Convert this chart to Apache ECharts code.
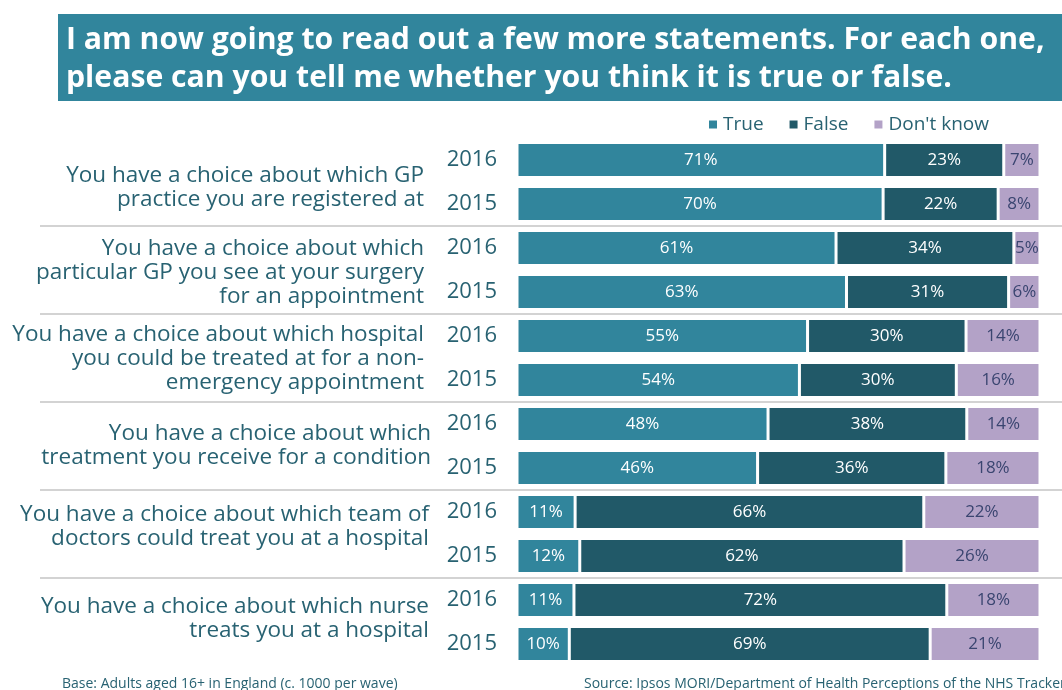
<!DOCTYPE html>
<html>
<head>
<meta charset="utf-8">
<script src="https://cdn.jsdelivr.net/npm/echarts@6/dist/echarts.min.js"></script>
<style>
  html, body { margin: 0; padding: 0; background: #ffffff; }
  #chart { width: 1062px; height: 690px; }
</style>
</head>
<body>
<div id="chart"></div>
<script>
// Survey statements (one group of two waves each)
const statements = [
  'You have a choice about which GP\npractice you are registered at',
  'You have a choice about which\nparticular GP you see at your surgery\nfor an appointment',
  'You have a choice about which hospital\nyou could be treated at for a non-\nemergency appointment',
  'You have a choice about which\ntreatment you receive for a condition',
  'You have a choice about which team of\ndoctors could treat you at a hospital',
  'You have a choice about which nurse\ntreats you at a hospital'
];
const years = ['2016', '2015'];
const seriesNames = ['True', 'False', "Don't know"];

// Percentages per bar, ordered statement by statement, 2016 then 2015
const trueVals  = [71, 70, 61, 63, 55, 54, 48, 46, 11, 12, 11, 10];
const falseVals = [23, 22, 34, 31, 30, 30, 38, 36, 66, 62, 72, 69];
const dkVals    = [ 7,  8,  5,  6, 14, 16, 14, 18, 22, 26, 18, 21];

const titleLines = [
  'I am now going to read out a few more statements. For each one,',
  'please can you tell me whether you think it is true or false.'
];
const baseNote = 'Base: Adults aged 16+ in England (c. 1000 per wave)';
const sourceNote = 'Source: Ipsos MORI/Department of Health Perceptions of the NHS Tracker';

// One category per bar: statement index + wave year
const barKeys = [];
statements.forEach((s, i) => years.forEach(y => barKeys.push(i + '|' + y)));

// Each bar is stacked to its own 100% total
const rowTotals = trueVals.map((v, i) => v + falseVals[i] + dkVals[i]);
const share = arr => arr.map((v, i) => v / rowTotals[i] * 100);

const FONT = 'Open Sans';
const TEXT_COL = '#286272';
const colors = ['#31859c', '#215968', '#b3a2c7'];
const labelColors = ['#ffffff', '#ffffff', '#3a4570'];
const rawSets = [trueVals, falseVals, dkVals];

// Statement text layout: right edge and vertical nudge per group
const statementRight = [424, 424, 424, 431, 429, 429];
const statementShift = [5.5, 3, 0.5, 0, -7, -3];

const chart = echarts.init(document.getElementById('chart'), null, { renderer: 'canvas' });

const series = seriesNames.map((name, k) => ({
  name: name,
  type: 'bar',
  stack: 'all',
  barCategoryGap: '20%',
  data: share(rawSets[k]),
  itemStyle: { color: colors[k], borderColor: '#ffffff', borderWidth: 1.5 },
  label: {
    show: true,
    position: 'inside',
    color: labelColors[k],
    fontFamily: FONT,
    fontSize: 17,
    formatter: p => rawSets[k][p.dataIndex] + '%'
  },
  emphasis: { disabled: true },
  animation: false
}));

const option = {
  animation: false,
  color: colors,
  legend: {
    data: seriesNames,
    left: 702,
    top: 110,
    icon: 'rect',
    itemWidth: 10,
    itemHeight: 10,
    itemGap: 24,
    textStyle: { fontFamily: FONT, fontSize: 19, color: TEXT_COL }
  },
  grid: { left: 517, right: 22, top: 138, height: 528 },
  xAxis: {
    type: 'value',
    min: 0,
    max: 100,
    show: false
  },
  yAxis: {
    type: 'category',
    data: barKeys,
    inverse: true,
    axisLine: { show: false },
    axisTick: { show: false },
    splitLine: { show: false },
    axisLabel: {
      margin: 20,
      fontFamily: FONT,
      fontSize: 22,
      color: TEXT_COL,
      formatter: v => v.split('|')[1]
    }
  },
  series: series,
  graphic: [
    {
      type: 'rect',
      shape: { x: 58, y: 14, width: 1004, height: 87 },
      style: { fill: '#31859c' },
      silent: true
    },
    {
      type: 'text',
      left: 66,
      top: 21,
      style: {
        text: titleLines.join('\n'),
        fill: '#ffffff',
        font: 'bold 30.2px "Open Sans"',
        lineHeight: 38
      },
      silent: true
    },
    {
      type: 'text',
      left: 62,
      top: 677,
      style: { text: baseNote, fill: TEXT_COL, font: '14px "Open Sans"' },
      silent: true
    },
    {
      type: 'text',
      left: 584,
      top: 677,
      style: { text: sourceNote, fill: TEXT_COL, font: '14px "Open Sans"' },
      silent: true
    }
  ]
};

chart.setOption(option);

// Statement labels centred on each group's pair of bars, and grey rules between groups
const extra = [];
const py = i => chart.convertToPixel({ yAxisIndex: 0 }, barKeys[i]);
statements.forEach((s, g) => {
  const cy = (py(g * 2) + py(g * 2 + 1)) / 2;
  extra.push({
    type: 'text',
    x: statementRight[g],
    y: cy + statementShift[g],
    style: {
      text: s,
      fill: TEXT_COL,
      font: '22.5px "Open Sans"',
      lineHeight: 24,
      align: 'right',
      verticalAlign: 'middle'
    },
    silent: true
  });
  if (g > 0) {
    const y = Math.round((py(g * 2 - 1) + py(g * 2)) / 2);
    extra.push({
      type: 'line',
      shape: { x1: 40, y1: y, x2: 1062, y2: y },
      style: { stroke: '#d3d3d3', lineWidth: 2 },
      silent: true,
      z: -1
    });
  }
});
chart.setOption({ graphic: option.graphic.concat(extra) });
</script>
</body>
</html>
